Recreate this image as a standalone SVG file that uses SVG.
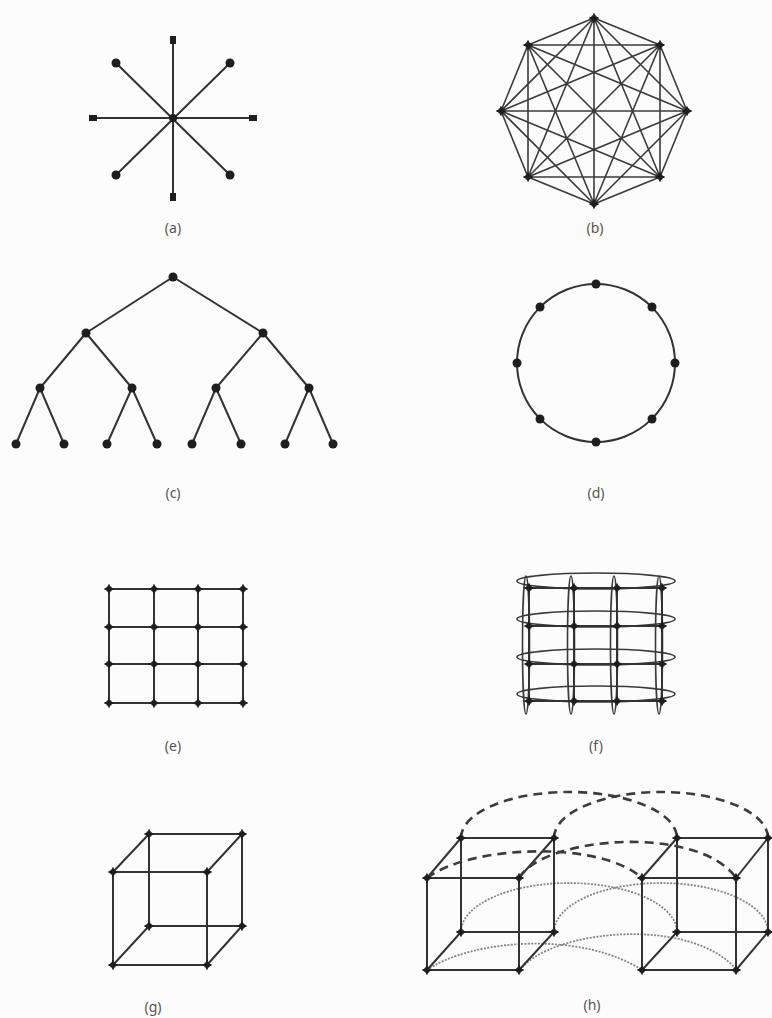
<svg xmlns="http://www.w3.org/2000/svg" xmlns:xlink="http://www.w3.org/1999/xlink" width="772" height="1018" viewBox="0 0 772 1018">
<style>
.e{fill:none;stroke:#333;stroke-width:2;stroke-linecap:round}
.eb{fill:none;stroke:#3a3a3a;stroke-width:1.6}
.dot{fill:#1e1e1e}
.dash{fill:none;stroke:#3c3c3c;stroke-width:2.6;stroke-dasharray:9 6}
.dotl{fill:none;stroke:#858585;stroke-width:1.8;stroke-dasharray:2 1.4}
.lbl{font-family:"Noto Sans","DejaVu Sans",sans-serif;font-size:14px;fill:#555;text-anchor:middle}
</style>
<defs>
<g id="pt"><circle r="3" fill="#1e1e1e"/><path d="M-4.5,0H4.5M0,-4.5V4.5" stroke="#1e1e1e" stroke-width="1.8"/></g>
</defs>
<rect width="772" height="1018" fill="#fcfcfc"/>

<!-- (a) star -->
<g id="fig-a">
<g id="a-edges" class="e"><path d="M173,40V197M93,118H253M116,63L230,175M230,63L116,175"/></g>
<g id="a-nodes">
<circle id="a-c" class="dot" cx="173" cy="118" r="4"/>
<rect id="a-t" class="dot" x="170" y="36" width="6" height="8"/>
<rect id="a-b" class="dot" x="170" y="193" width="6" height="8"/>
<rect id="a-l" class="dot" x="89" y="115" width="8" height="6"/>
<rect id="a-r" class="dot" x="249" y="115" width="8" height="6"/>
<circle id="a-ul" class="dot" cx="116" cy="63" r="4.5"/>
<circle id="a-ur" class="dot" cx="230" cy="63" r="4.5"/>
<circle id="a-ll" class="dot" cx="116" cy="175" r="4.5"/>
<circle id="a-lr" class="dot" cx="230" cy="175" r="4.5"/>
</g>
<text class="lbl" x="173" y="233">(a)</text>
</g>

<!-- (b) complete graph -->
<g id="fig-b">
<g id="b-edges" class="eb"><path d="M594,18L660,45M594,18L687,111M594,18L660,177M594,18L594,204M594,18L528,177M594,18L501,111M594,18L528,45M660,45L687,111M660,45L660,177M660,45L594,204M660,45L528,177M660,45L501,111M660,45L528,45M687,111L660,177M687,111L594,204M687,111L528,177M687,111L501,111M687,111L528,45M660,177L594,204M660,177L528,177M660,177L501,111M660,177L528,45M594,204L528,177M594,204L501,111M594,204L528,45M528,177L501,111M528,177L528,45M501,111L528,45"/></g>
<g id="b-nodes">
<use id="b0" href="#pt" x="594" y="18"/><use id="b1" href="#pt" x="660" y="45"/>
<use id="b2" href="#pt" x="687" y="111"/><use id="b3" href="#pt" x="660" y="177"/>
<use id="b4" href="#pt" x="594" y="204"/><use id="b5" href="#pt" x="528" y="177"/>
<use id="b6" href="#pt" x="501" y="111"/><use id="b7" href="#pt" x="528" y="45"/>
</g>
<text class="lbl" x="595" y="233">(b)</text>
</g>

<!-- (c) tree -->
<g id="fig-c">
<g id="c-edges" class="e"><path d="M173,277L86,333M173,277L263,333M86,333L40,388M86,333L132,388M263,333L216,388M263,333L309,388M40,388L16,444M40,388L64,444M132,388L107,444M132,388L157,444M216,388L192,444M216,388L241,444M309,388L285,444M309,388L333,444"/></g>
<g id="c-nodes" class="dot">
<circle id="c0" cx="173" cy="277" r="4.5"/>
<circle id="c1" cx="86" cy="333" r="4.5"/><circle id="c2" cx="263" cy="333" r="4.5"/>
<circle id="c3" cx="40" cy="388" r="4.5"/><circle id="c4" cx="132" cy="388" r="4.5"/>
<circle id="c5" cx="216" cy="388" r="4.5"/><circle id="c6" cx="309" cy="388" r="4.5"/>
<circle id="c7" cx="16" cy="444" r="4.5"/><circle id="c8" cx="64" cy="444" r="4.5"/>
<circle id="c9" cx="107" cy="444" r="4.5"/><circle id="c10" cx="157" cy="444" r="4.5"/>
<circle id="c11" cx="192" cy="444" r="4.5"/><circle id="c12" cx="241" cy="444" r="4.5"/>
<circle id="c13" cx="285" cy="444" r="4.5"/><circle id="c14" cx="333" cy="444" r="4.5"/>
</g>
<text class="lbl" x="173" y="498">(c)</text>
</g>

<!-- (d) ring -->
<g id="fig-d">
<g id="d-edges"><circle class="e" cx="596" cy="363" r="79"/></g>
<g id="d-nodes" class="dot">
<circle id="d0" cx="596" cy="284" r="4.5"/><circle id="d1" cx="652" cy="307" r="4.5"/>
<circle id="d2" cx="675" cy="363" r="4.5"/><circle id="d3" cx="652" cy="419" r="4.5"/>
<circle id="d4" cx="596" cy="442" r="4.5"/><circle id="d5" cx="540" cy="419" r="4.5"/>
<circle id="d6" cx="517" cy="363" r="4.5"/><circle id="d7" cx="540" cy="307" r="4.5"/>
</g>
<text class="lbl" x="596" y="498">(d)</text>
</g>

<!-- (e) mesh -->
<g id="fig-e">
<g id="e-edges" class="e"><path d="M109,589H243M109,627H243M109,664H243M109,703H243M109,589V703M154,589V703M198,589V703M243,589V703"/></g>
<g id="e-nodes">
<use id="e00" href="#pt" x="109" y="589"/><use id="e01" href="#pt" x="154" y="589"/><use id="e02" href="#pt" x="198" y="589"/><use id="e03" href="#pt" x="243" y="589"/>
<use id="e10" href="#pt" x="109" y="627"/><use id="e11" href="#pt" x="154" y="627"/><use id="e12" href="#pt" x="198" y="627"/><use id="e13" href="#pt" x="243" y="627"/>
<use id="e20" href="#pt" x="109" y="664"/><use id="e21" href="#pt" x="154" y="664"/><use id="e22" href="#pt" x="198" y="664"/><use id="e23" href="#pt" x="243" y="664"/>
<use id="e30" href="#pt" x="109" y="703"/><use id="e31" href="#pt" x="154" y="703"/><use id="e32" href="#pt" x="198" y="703"/><use id="e33" href="#pt" x="243" y="703"/>
</g>
<text class="lbl" x="173" y="751">(e)</text>
</g>

<!-- (f) torus -->
<g id="fig-f">
<g id="f-edges">
<g class="eb">
<ellipse cx="526" cy="645" rx="3.5" ry="69"/><ellipse cx="571" cy="645" rx="3.5" ry="69"/>
<ellipse cx="614" cy="645" rx="3.5" ry="69"/><ellipse cx="659" cy="645" rx="3.5" ry="69"/>
<ellipse cx="596" cy="581" rx="79" ry="8"/><ellipse cx="596" cy="619" rx="79" ry="8"/>
<ellipse cx="596" cy="657" rx="79" ry="8"/><ellipse cx="596" cy="694" rx="79" ry="8"/>
</g>
<path class="e" d="M529,588H662M529,626H662M529,664H662M529,701H662M529,588V701M574,588V701M617,588V701M662,588V701"/>
</g>
<g id="f-nodes">
<use id="f00" href="#pt" x="529" y="588"/><use id="f01" href="#pt" x="574" y="588"/><use id="f02" href="#pt" x="617" y="588"/><use id="f03" href="#pt" x="662" y="588"/>
<use id="f10" href="#pt" x="529" y="626"/><use id="f11" href="#pt" x="574" y="626"/><use id="f12" href="#pt" x="617" y="626"/><use id="f13" href="#pt" x="662" y="626"/>
<use id="f20" href="#pt" x="529" y="664"/><use id="f21" href="#pt" x="574" y="664"/><use id="f22" href="#pt" x="617" y="664"/><use id="f23" href="#pt" x="662" y="664"/>
<use id="f30" href="#pt" x="529" y="701"/><use id="f31" href="#pt" x="574" y="701"/><use id="f32" href="#pt" x="617" y="701"/><use id="f33" href="#pt" x="662" y="701"/>
</g>
<text class="lbl" x="596" y="751">(f)</text>
</g>

<!-- (g) cube -->
<g id="fig-g">
<g id="g-edges" class="e"><path d="M113,872H207V965H113ZM149,834H242V926H149ZM113,872L149,834M207,872L242,834M113,965L149,926M207,965L242,926"/></g>
<g id="g-nodes">
<use id="g0" href="#pt" x="113" y="872"/><use id="g1" href="#pt" x="207" y="872"/>
<use id="g2" href="#pt" x="113" y="965"/><use id="g3" href="#pt" x="207" y="965"/>
<use id="g4" href="#pt" x="149" y="834"/><use id="g5" href="#pt" x="242" y="834"/>
<use id="g6" href="#pt" x="149" y="926"/><use id="g7" href="#pt" x="242" y="926"/>
</g>
<text class="lbl" x="153" y="1012">(g)</text>
</g>

<!-- (h) hypercube -->
<g id="fig-h">
<g id="h-edges">
<path class="dotl" d="M461,932A108,49 0 0 1 677,932M554,932A107,49 0 0 1 768,932M427,970C470,940 580,930 642,970M520,970C550,930 690,915 737,970"/>
<path class="e" d="M427,878H519V970H427ZM461,838H554V932H461ZM427,878L461,838M519,878L554,838M427,970L461,932M519,970L554,932"/>
<path class="e" d="M642,878H736V970H642ZM677,838H768V932H677ZM642,878L677,838M736,878L768,838M642,970L677,932M736,970L768,932"/>
<path class="dash" d="M461,838A108,46 0 0 1 677,838M554,838A107,46 0 0 1 768,838M427,878C470,845 600,840 642,878M519,878C545,835 700,825 736,878"/>
</g>
<g id="h-nodes">
<use id="hL0" href="#pt" x="427" y="878"/><use id="hL1" href="#pt" x="519" y="878"/>
<use id="hL2" href="#pt" x="427" y="970"/><use id="hL3" href="#pt" x="519" y="970"/>
<use id="hL4" href="#pt" x="461" y="838"/><use id="hL5" href="#pt" x="554" y="838"/>
<use id="hL6" href="#pt" x="461" y="932"/><use id="hL7" href="#pt" x="554" y="932"/>
<use id="hR0" href="#pt" x="642" y="878"/><use id="hR1" href="#pt" x="736" y="878"/>
<use id="hR2" href="#pt" x="642" y="970"/><use id="hR3" href="#pt" x="736" y="970"/>
<use id="hR4" href="#pt" x="677" y="838"/><use id="hR5" href="#pt" x="768" y="838"/>
<use id="hR6" href="#pt" x="677" y="932"/><use id="hR7" href="#pt" x="768" y="932"/>
</g>
<text class="lbl" x="592" y="1010">(h)</text>
</g>
</svg>
